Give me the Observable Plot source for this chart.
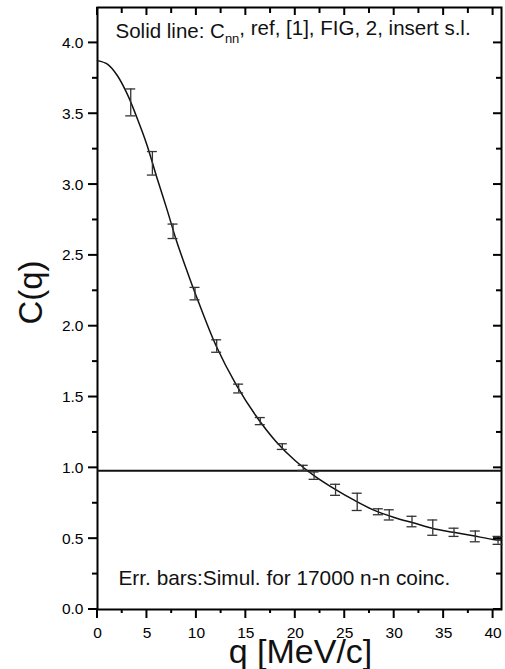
<!DOCTYPE html>
<html><head><meta charset="utf-8">
<script src="https://cdn.jsdelivr.net/npm/d3@7"></script>
<script src="https://cdn.jsdelivr.net/npm/@observablehq/plot@0.6"></script>
<style>body{margin:0;background:#fff;overflow:hidden} svg{display:block;font-family:'Liberation Sans',Arial,sans-serif}</style>
</head><body><div id="chart"></div>
<script>
// Simulated points with error bars
const qPoints = [3.36, 5.55, 7.64, 9.86, 12.05, 14.27, 16.46, 18.69, 20.8, 21.9, 24.07, 26.26, 28.4, 29.5, 31.8, 33.9, 36.05, 38.2, 40.5];
const cPoints = [3.58, 3.15, 2.67, 2.23, 1.86, 1.56, 1.33, 1.15, 1.00, 0.945, 0.845, 0.76, 0.69, 0.668, 0.621, 0.578, 0.545, 0.516, 0.488];
const cErrors = [0.095, 0.083, 0.051, 0.044, 0.044, 0.031, 0.025, 0.02, 0.018, 0.026, 0.039, 0.061, 0.021, 0.036, 0.037, 0.054, 0.029, 0.038, 0.028];
// Solid line C_nn
const qCurve = [0, 1, 2, 3, 4, 5, 6, 7, 8, 9, 10, 12, 14, 16, 18, 20, 22, 24, 26, 28, 30, 32, 34, 36, 38, 40, 40.85];
const cCurve = [3.875, 3.85, 3.77, 3.64, 3.47, 3.28, 3.05, 2.83, 2.60, 2.40, 2.21, 1.86, 1.59, 1.37, 1.19, 1.05, 0.94, 0.85, 0.77, 0.70, 0.65, 0.61, 0.57, 0.545, 0.52, 0.495, 0.49];
const baselineC = [0.98];
// Ticks
const xMajorTicks = [0, 5, 10, 15, 20, 25, 30, 35, 40];
const xMinorTicks = [2.5, 7.5, 12.5, 17.5, 22.5, 27.5, 32.5, 37.5];
const yMajorTicks = [0, 0.5, 1.0, 1.5, 2.0, 2.5, 3.0, 3.5, 4.0];
const yMinorTicks = [0.25, 0.75, 1.25, 1.75, 2.25, 2.75, 3.25, 3.75];
// Texts
const xLabel = "q [MeV/c]";
const yLabel = "C(q)";
const topNotePre = "Solid line: C";
const topNoteSub = "nn";
const topNotePost = ", ref, [1], FIG, 2, insert s.l.";
const bottomNote = "Err. bars:Simul. for 17000 n-n coinc.";

const points = qPoints.map((q, i) => ({q, c: cPoints[i], lo: cPoints[i] - cErrors[i], hi: cPoints[i] + cErrors[i]}));
const curve = qCurve.map((q, i) => ({q, c: cCurve[i]}));
const topNote = topNotePre + topNoteSub + topNotePost;
const W = 505, H = 669, mL = 97, mR = 4, mT = 7, mB = 60;
const fw = W - mL - mR, fh = H - mT - mB;
const tk = {stroke: "#000", strokeWidth: 2};
const bar = {stroke: "#333", strokeWidth: 1.3};

const chart = Plot.plot({
  width: W, height: H,
  marginLeft: mL, marginRight: mR, marginTop: mT, marginBottom: mB,
  x: {domain: [0, 40.85], axis: null},
  y: {domain: [0, 4.25], axis: null},
  marks: [
    Plot.frame({stroke: "#000", strokeWidth: 2, fill: "none"}),
    Plot.axisY({anchor: "left", ticks: yMajorTicks, tickFormat: d3.format(".1f"), tickSize: 0, tickPadding: 14, label: null, fontSize: 15.5}),
    Plot.axisX({anchor: "bottom", ticks: xMajorTicks, tickFormat: d3.format("d"), tickSize: 0, tickPadding: 17, label: null, fontSize: 15.5}),
    Plot.ruleY(baselineC, {stroke: "#111", strokeWidth: 2}),
    Plot.line(curve, {x: "q", y: "c", curve: "catmull-rom", stroke: "#111", strokeWidth: 1.5}),
    // error bars with caps
    Plot.ruleX(points, {x: "q", y1: "lo", y2: "hi", ...bar}),
    Plot.ruleY(points, {y: "lo", x1: "q", x2: "q", insetLeft: -5, insetRight: -5, ...bar}),
    Plot.ruleY(points, {y: "hi", x1: "q", x2: "q", insetLeft: -5, insetRight: -5, ...bar}),
    Plot.text([topNote], {frameAnchor: "top-left", textAnchor: "start", lineAnchor: "bottom", dx: 18, dy: 30, fontSize: 20.5, fill: "#111"}),
    Plot.text([bottomNote], {frameAnchor: "bottom-left", textAnchor: "start", lineAnchor: "bottom", dx: 21, dy: -25, fontSize: 20.8, fill: "#111"}),
    Plot.text([yLabel], {frameAnchor: "left", textAnchor: "middle", lineAnchor: "middle", rotate: -90, dx: -66, dy: -16, fontSize: 33, fill: "#111"}),
    Plot.text([xLabel], {frameAnchor: "bottom", textAnchor: "middle", lineAnchor: "bottom", dx: 1, dy: 53, fontSize: 34, fill: "#111"})
  ]
});

// subscript for C_nn
d3.select(chart).selectAll("text").filter(function() { return this.textContent === topNote; }).each(function() {
  const t = d3.select(this);
  t.text(null);
  t.append("tspan").attr("fill", "#111").text(topNotePre);
  t.append("tspan").attr("fill", "#111").attr("dy", "0.4em").attr("font-size", "13px").text(topNoteSub);
  t.append("tspan").attr("fill", "#111").attr("dy", "-0.4em").text(topNotePost);
});

// tick marks placed through Plot's own x and y scales
const sx = chart.scale("x"), sy = chart.scale("y");
const tg = d3.select(chart).append("g").attr("aria-label", "ticks").attr("stroke", "#000").attr("stroke-width", 2).attr("fill", "none");
const addY = (vals, x1, x2) => vals.forEach(v => { const y = sy.apply(v); tg.append("line").attr("x1", x1).attr("x2", x2).attr("y1", y).attr("y2", y); });
const addX = (vals, y1, y2) => vals.forEach(v => { const x = sx.apply(v); tg.append("line").attr("x1", x).attr("x2", x).attr("y1", y1).attr("y2", y2); });
addY(yMajorTicks, mL - 9, mL);          // left, outward
addY(yMinorTicks, mL - 5, mL);
addY(yMajorTicks, W - mR - 8, W - mR);  // right, inward
addY(yMinorTicks, W - mR - 5, W - mR);
addX(xMajorTicks, H - mB, H - mB + 9);  // bottom, outward
addX(xMinorTicks, H - mB, H - mB + 4);
addX(xMajorTicks, mT, mT + 8);          // top, inward
addX(xMinorTicks, mT, mT + 6);

document.getElementById("chart").appendChild(chart);
</script>
</body></html>
